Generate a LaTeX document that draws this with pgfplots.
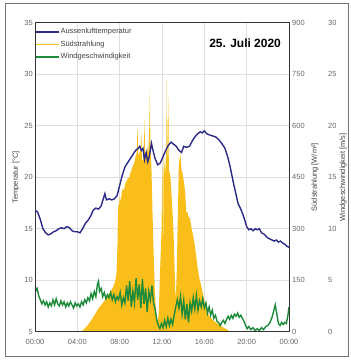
\documentclass[border=0pt]{standalone}
\usepackage{fontspec}
\setmainfont{Liberation Sans}
\usepackage{pgfplots}
\pgfplotsset{compat=1.18}
\usepackage{pgfplotstable}
\definecolor{tempc}{HTML}{2B2A86}
\definecolor{solc}{HTML}{F9BE1A}
\definecolor{windc}{HTML}{1E8A3C}
\definecolor{tickc}{HTML}{666666}

\pgfplotstableread{
h T
0 16.8
0.25 16.6
0.5 15.9
0.75 15.0
1.0 14.6
1.25 14.4
1.5 14.5
1.75 14.7
2.0 14.8
2.25 15.0
2.5 15.1
2.75 15.0
3.0 15.2
3.25 15.1
3.5 14.8
3.75 14.7
4.0 14.7
4.25 14.6
4.5 15.0
4.75 15.5
5.0 15.8
5.25 16.2
5.5 16.8
5.75 17.0
6.0 16.9
6.25 17.2
6.45 17.9
6.6 18.4
6.75 17.8
7.0 17.9
7.25 17.8
7.5 17.9
7.75 18.2
8.0 19.2
8.25 20.2
8.5 21.0
8.75 21.4
9.0 21.8
9.25 22.2
9.5 22.6
9.75 22.8
9.9 23.0
10.05 22.6
10.2 22.8
10.35 21.7
10.5 22.4
10.65 21.5
10.8 22.0
11.0 23.3
11.15 22.6
11.35 21.8
11.6 21.2
11.85 21.4
12.1 22.0
12.35 22.6
12.6 23.1
12.85 23.4
13.1 23.2
13.35 23.0
13.6 22.6
13.85 22.4
14.05 23.0
14.3 22.9
14.6 23.0
14.85 23.5
15.1 23.9
15.35 24.2
15.6 24.4
15.8 24.3
16.0 24.5
16.25 24.2
16.5 24.1
16.8 24.0
17.1 23.9
17.4 23.6
17.7 23.2
17.95 22.8
18.2 22.0
18.4 21.2
18.6 20.2
18.8 19.2
19.0 18.3
19.2 17.4
19.4 17.0
19.6 16.5
19.8 15.9
20.0 15.2
20.2 14.9
20.4 15.0
20.6 14.8
20.8 15.0
21.0 14.9
21.2 15.0
21.4 14.6
21.6 14.5
21.8 14.3
22.0 14.1
22.2 14.0
22.4 13.9
22.6 13.8
22.8 13.9
23.0 13.7
23.2 13.8
23.4 13.6
23.6 13.5
23.8 13.3
24.0 13.2
}\temptable

\pgfplotstableread{
h S
0 0
4.3 0
4.6 6
5.0 19
5.5 42
6.0 68
6.5 87
7.0 111
7.2 120
7.4 131
7.6 150
7.7 170
7.8 260
7.85 364
7.95 372
8.0 393
8.1 380
8.2 405
8.3 418
8.4 410
8.5 428
8.6 436
8.7 441
8.8 450
8.9 446
9.0 461
9.1 470
9.2 478
9.3 486
9.4 495
9.5 510
9.6 520
9.65 560
9.7 597
9.75 515
9.85 519
9.95 530
10.0 545
10.05 582
10.1 500
10.2 500
10.25 520
10.3 560
10.35 622
10.4 505
10.5 503
10.6 540
10.7 520
10.8 600
10.85 704
10.9 560
11.0 480
11.1 350
11.2 238
11.3 140
11.4 72
11.5 40
11.6 25
11.7 60
11.8 160
11.9 250
11.95 287
12.0 420
12.05 480
12.1 150
12.15 520
12.2 500
12.3 461
12.4 520
12.45 735
12.5 470
12.6 690
12.65 450
12.7 470
12.8 450
12.9 400
13.0 345
13.1 280
13.15 229
13.25 120
13.3 92
13.4 180
13.45 267
13.55 420
13.6 510
13.7 490
13.75 520
13.85 470
13.95 460
14.0 450
14.1 430
14.2 400
14.3 345
14.4 350
14.5 335
14.6 333
14.7 320
14.8 300
14.9 287
15.0 270
15.1 250
15.2 229
15.35 190
15.5 160
15.65 140
15.8 121
16.0 90
16.2 63
16.5 45
16.8 34
17.2 24
17.5 19
17.8 12
18.2 5
18.5 0
24 0
}\solartable

\pgfplotstableread{
h W
0.00 4.4
0.10 4.0
0.20 4.2
0.35 3.5
0.50 3.1
0.65 2.7
0.80 3.0
0.95 2.6
1.10 2.9
1.25 2.4
1.40 2.8
1.55 2.5
1.70 3.1
1.85 2.6
2.00 3.2
2.15 2.7
2.30 2.5
2.45 3.0
2.60 2.6
2.75 2.9
2.90 2.4
3.05 2.8
3.20 2.5
3.35 2.9
3.50 2.6
3.65 2.3
3.80 2.8
3.95 2.5
4.10 2.7
4.25 2.4
4.40 2.9
4.55 2.6
4.70 3.1
4.85 2.8
5.00 3.3
5.15 3.0
5.30 3.7
5.45 3.2
5.60 3.9
5.75 3.4
5.90 4.6
6.00 4.9
6.10 3.9
6.25 4.2
6.40 3.4
6.55 3.8
6.70 3.2
6.85 3.6
7.00 3.3
7.15 3.8
7.30 3.1
7.45 3.6
7.60 2.9
7.75 3.4
7.90 3.1
8.05 3.8
8.20 2.6
8.35 3.3
8.50 2.8
8.65 4.5
8.80 3.0
8.95 4.9
9.10 2.4
9.25 3.9
9.40 2.8
9.55 5.2
9.70 3.1
9.85 4.6
10.00 2.3
10.15 5.1
10.30 2.7
10.45 4.2
10.60 1.9
10.75 3.9
10.90 3.1
11.05 4.5
11.20 2.8
11.35 2.2
11.50 1.2
11.65 0.6
11.80 0.3
11.95 0.8
12.10 0.4
12.25 1.1
12.40 0.5
12.55 1.3
12.70 0.6
12.85 1.2
13.00 0.7
13.15 1.6
13.30 2.4
13.45 3.1
13.60 2.3
13.75 3.4
13.90 1.7
14.05 3.0
14.20 1.2
14.35 2.7
14.50 0.9
14.65 2.8
14.80 2.0
14.95 3.3
15.10 2.2
15.25 3.5
15.40 2.1
15.55 3.0
15.70 2.4
15.85 3.2
16.00 2.3
16.15 2.8
16.30 1.8
16.45 2.4
16.60 1.6
16.75 2.1
16.90 1.3
17.05 1.6
17.20 1.0
17.35 0.9
17.50 0.6
17.65 0.9
17.80 1.1
17.95 0.8
18.10 1.2
18.25 1.5
18.40 1.2
18.55 1.6
18.70 1.3
18.85 1.7
19.00 1.5
19.15 1.8
19.30 1.4
19.45 1.6
19.60 1.3
19.75 1.0
19.90 0.6
20.05 0.3
20.20 0.5
20.40 0.2
20.60 0.4
20.80 0.1
21.00 0.3
21.20 0.1
21.40 0.4
21.60 0.2
21.80 0.5
22.00 0.6
22.20 0.9
22.40 1.4
22.55 2.0
22.70 2.6
22.85 1.7
23.00 0.8
23.15 0.6
23.30 0.9
23.45 0.7
23.60 0.9
23.75 0.8
23.90 1.6
24.00 2.4
}\windtable

\pgfplotsset{
  base/.style={
    scale only axis, width=254bp, height=309bp,
    xmin=0, xmax=24, at={(0,0)}, anchor=south west,
    /pgf/number format/assume math mode=true,
    ticklabel style={font=\fontsize{7.5}{8}\selectfont, text=tickc},
    label style={font=\fontsize{7.5}{8}\selectfont, text=black!75},
    major tick length=0pt,
  },
  rightax/.style={
    axis y line*=right, axis x line=none,
    y axis line style={draw=none},
    yticklabel style={anchor=west, inner sep=0pt, xshift=3bp},
  },
}

\begin{document}
\begin{tikzpicture}
\useasboundingbox (-35bp,-28.3bp) rectangle (316bp,331.7bp);
\draw[black!55, line width=0.9bp] (-30bp,-24.3bp) rectangle (313bp,328.4bp);

% grid + left/bottom tick labels
\begin{axis}[base,
  ymin=5, ymax=35, ytick={5,10,...,35},
  xtick={0,4,...,24},
  xticklabels={00:00,04:00,08:00,12:00,16:00,20:00,00:00},
  grid=major, grid style={black!13, line width=0.6bp},
  axis line style={draw=none},
  yticklabel style={anchor=east, inner sep=0pt, xshift=-2bp},
  xticklabel style={anchor=north, inner sep=0pt, yshift=-7bp},
  ylabel={Temperatur [°C]},
  ylabel style={at={(axis description cs:-0.075,0.5)}, anchor=center},
]
\addplot[draw=none] coordinates {(0,5)};
\end{axis}

% solar
\begin{axis}[base, rightax,
  ymin=0, ymax=900, ytick={0,150,...,900},
  ylabel={Südstrahlung [W/m²]},
  ylabel style={at={(axis description cs:1.102,0.5)}, anchor=center},
]
\addplot[fill=solc, draw=none] table[x=h, y=S] {\solartable} \closedcycle;
\end{axis}

% wind
\begin{axis}[base, rightax,
  ymin=0, ymax=30, ytick={0,5,...,30},
  yticklabel style={xshift=36bp},
  ylabel={Windgeschwindigkeit [m/s]},
  ylabel style={at={(axis description cs:1.213,0.5)}, anchor=center},
]
\addplot[windc, line width=1.4bp] table[x=h, y=W] {\windtable};
\end{axis}

% temperature line, frame, legend, title
\begin{axis}[base,
  ymin=5, ymax=35, xtick=\empty, ytick=\empty,
  axis line style={black!80, line width=1bp},
  legend style={at={(axis description cs:0.0,0.985)}, anchor=north west,
    draw=none, fill=none, font=\fontsize{7.5}{8}\selectfont,
    inner sep=0pt, row sep=3.5bp, nodes={inner sep=1bp, text=black!75}},
  legend cell align=left,
  legend image code/.code={\draw[#1] (0bp,0bp) -- (23bp,0bp);},
]
\addplot[tempc, line width=1.4bp] table[x=h, y=T] {\temptable};
\addlegendentry{Aussenlufttemperatur}
\addplot[solc, line width=1.4bp] coordinates {(-5,10) (-4,10)};
\addlegendentry{Südstrahlung}
\addplot[windc, line width=1.4bp] coordinates {(-5,10) (-4,10)};
\addlegendentry{Windgeschwindigkeit}
\node[font=\bfseries\fontsize{12}{14}\selectfont, anchor=center] at (rel axis cs:0.827,0.934) {25. Juli 2020};
\end{axis}
\end{tikzpicture}
\end{document}
